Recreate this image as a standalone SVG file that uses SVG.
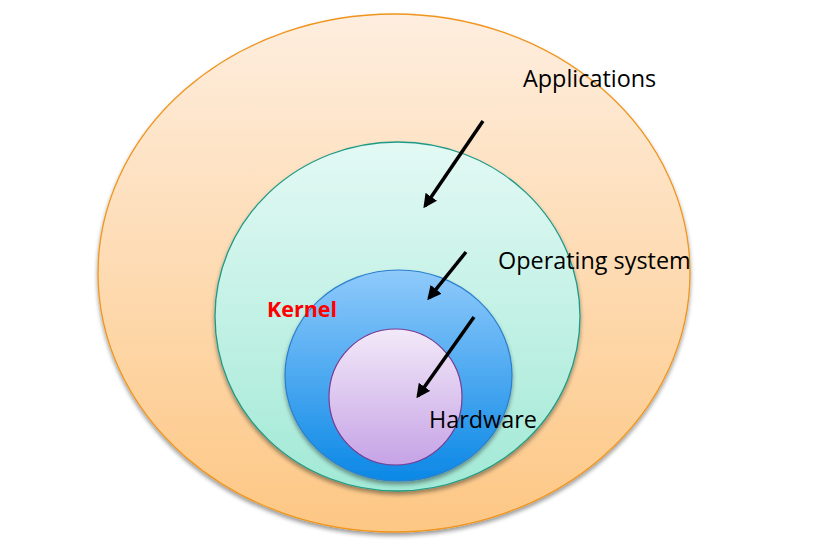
<svg xmlns="http://www.w3.org/2000/svg" width="824" height="552" viewBox="0 0 824 552">
<style>
.lbl{font-family:"Open Sans","Liberation Sans",sans-serif;font-size:23.4px;fill:#000}
.kern{font-family:"Open Sans","Liberation Sans",sans-serif;font-size:21.5px;font-weight:bold;fill:#ff0000}
.arr{stroke:#000;stroke-width:3.5;fill:none;marker-end:url(#ah)}
</style>
<defs>
<linearGradient id="gO" x1="0" y1="0" x2="0" y2="1"><stop offset="0" stop-color="#feeedf"/><stop offset="1" stop-color="#fdc784"/></linearGradient>
<linearGradient id="gG" x1="0" y1="0" x2="0" y2="1"><stop offset="0" stop-color="#e3f9f4"/><stop offset="1" stop-color="#a2e9d6"/></linearGradient>
<linearGradient id="gB" x1="0" y1="0" x2="0" y2="1"><stop offset="0" stop-color="#8fcafb"/><stop offset="1" stop-color="#0b88e6"/></linearGradient>
<linearGradient id="gP" x1="0" y1="0" x2="0" y2="1"><stop offset="0" stop-color="#f2e9f8"/><stop offset="1" stop-color="#c6a3e6"/></linearGradient>
<filter id="sh" x="-10%" y="-10%" width="120%" height="125%"><feGaussianBlur in="SourceAlpha" stdDeviation="2"/><feOffset dx="0" dy="3"/><feComponentTransfer><feFuncA type="linear" slope="0.4"/></feComponentTransfer><feMerge><feMergeNode/><feMergeNode in="SourceGraphic"/></feMerge></filter>
<marker id="ah" viewBox="0 0 10 10" refX="8" refY="5" markerWidth="4" markerHeight="4" orient="auto"><path d="M0,0 L10,5 L0,10 z" fill="#000"/></marker>
</defs>
<g id="applications">
<ellipse cx="394" cy="273" rx="296" ry="259" fill="url(#gO)" stroke="#f0951e" stroke-width="1.3" filter="url(#sh)"/>
<text class="lbl" x="523" y="87">Applications</text>
</g>
<g id="operating-system">
<ellipse cx="397.5" cy="316.5" rx="182.5" ry="174.5" fill="url(#gG)" stroke="#1f9a86" stroke-width="1.3" filter="url(#sh)"/>
<text class="lbl" x="498" y="269">Operating system</text>
</g>
<g id="kernel">
<ellipse cx="398.5" cy="375.5" rx="113.5" ry="105.5" fill="url(#gB)" stroke="#2a7fce" stroke-width="1.2" filter="url(#sh)"/>
<text class="kern" x="267" y="317">Kernel</text>
</g>
<g id="hardware">
<ellipse cx="395.5" cy="397" rx="66.5" ry="68" fill="url(#gP)" stroke="#7a3c93" stroke-width="1.2"/>
<text class="lbl" x="429" y="428">Hardware</text>
</g>
<g id="connectors">
<line class="arr" x1="483" y1="121" x2="425" y2="206"/>
<line class="arr" x1="466" y1="252" x2="429" y2="298"/>
<line class="arr" x1="474" y1="317" x2="418" y2="396"/>
</g>
</svg>
